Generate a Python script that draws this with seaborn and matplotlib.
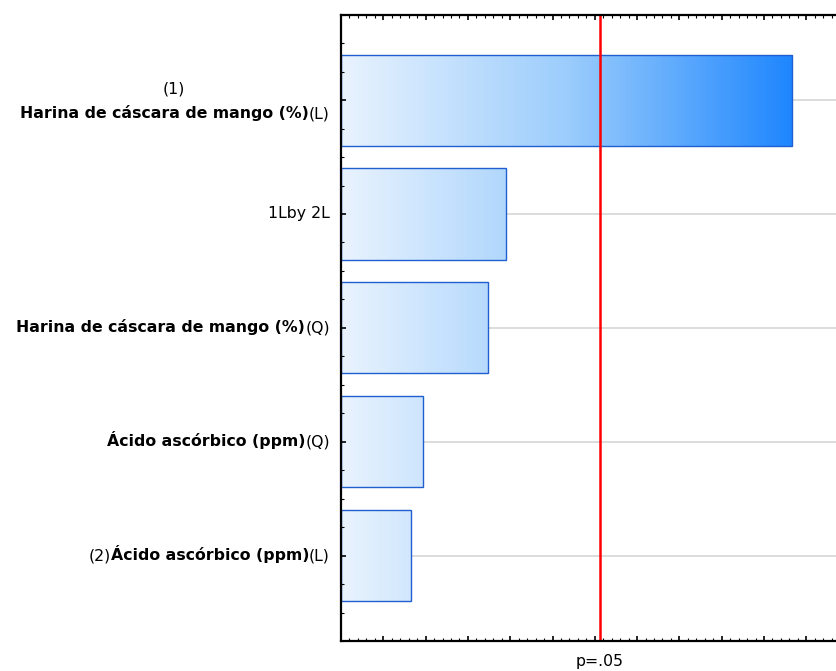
import numpy as np
import pandas as pd
import matplotlib
matplotlib.use('Agg')
import matplotlib.pyplot as plt
from matplotlib.colors import LinearSegmentedColormap
from matplotlib.ticker import MultipleLocator
import seaborn as sns

# efectos estandarizados (valor absoluto)
effects = ['(1)Harina de cáscara de mango (%)(L)', '1Lby 2L',
           'Harina de cáscara de mango (%)(Q)', 'Ácido ascórbico (ppm)(Q)',
           '(2)Ácido ascórbico (ppm)(L)']
values = [4.265, 1.560, 1.390, 0.775, 0.662]
p_crit = 2.447
p_label = 'p=.05'

# partes de cada etiqueta: (texto, negrita), de izquierda a derecha
label_parts = [
    [('Harina de cáscara de mango (%)', True), ('(L)', False)],
    [('1Lby 2L', False)],
    [('Harina de cáscara de mango (%)', True), ('(Q)', False)],
    [('Ácido ascórbico (ppm)', True), ('(Q)', False)],
    [('(2)', False), ('Ácido ascórbico (ppm)', True), ('(L)', False)],
]
label_prefix = ['(1)', '', '', '', '']

df = pd.DataFrame({'efecto': effects, 'valor': values})

sns.set_style('white')
plt.rcParams['font.family'] = ['DejaVu Sans']
plt.rcParams['text.color'] = 'black'
fs = 11.3

fig = plt.figure(figsize=(8.36, 6.71), dpi=100)
ax = fig.add_axes([341 / 836, 1 - 641 / 671, (836 - 341) / 836, (641 - 14.7) / 671])

sns.barplot(data=df, x='valor', y='efecto', orient='h', ax=ax, width=0.8,
            facecolor='none', edgecolor='#1f5fd0', linewidth=1.0, zorder=1.8)

# relleno degradado segun posicion x
cmap = LinearSegmentedColormap.from_list('grad', ['#e9f3fe', '#9ccdfc', '#1e86fe'])
xmax = max(values)
grad = np.linspace(0, 1, 256).reshape(1, -1)
for patch in ax.patches:
    y0, h = patch.get_y(), patch.get_height()
    im = ax.imshow(grad, cmap=cmap, aspect='auto', extent=(0, xmax, y0 + h, y0),
                   zorder=1.5, interpolation='bilinear')
    im.set_clip_path(patch)

ax.set_xlim(0, (836 - 341) / 105.75)
ax.set_ylim(len(values) - 0.25, -0.75)

# rejilla horizontal
for i in range(len(values)):
    ax.axhline(i, color='#d9d9d9', lw=1.3, zorder=1)

ax.axvline(p_crit, color='#ff0000', lw=1.8, zorder=2.2)
ax.set_axisbelow(False)

ax.xaxis.set_major_locator(MultipleLocator(0.4))
ax.xaxis.set_minor_locator(MultipleLocator(0.08))
ax.yaxis.set_major_locator(MultipleLocator(1))
ax.yaxis.set_minor_locator(MultipleLocator(0.25))
ax.tick_params(axis='both', which='major', direction='in', length=3.5, width=1.2,
               color='black', top=True, bottom=True, left=True, right=False,
               labelbottom=False, labelleft=False)
ax.tick_params(axis='both', which='minor', direction='in', length=2, width=0.8,
               color='black', top=True, bottom=True, left=True, right=False)
ax.set_xlabel('')
ax.set_ylabel('')

for side in ['top', 'bottom', 'left']:
    ax.spines[side].set_color('black')
    ax.spines[side].set_linewidth(1.6)
ax.spines['right'].set_visible(False)

ax.annotate(p_label, xy=(p_crit, 0), xycoords=('data', 'axes fraction'),
            xytext=(0, -14.5), textcoords='offset points',
            ha='center', va='center', fontsize=fs, color='black')

# etiquetas con partes en negrita
for i, parts in enumerate(label_parts):
    dy = -9.7 if label_prefix[i] else 0
    prev = None
    bold_txt = None
    for txt, bold in reversed(parts):
        wgt = 'bold' if bold else 'normal'
        if prev is None:
            prev = ax.annotate(txt, xy=(0, i), xycoords=('axes fraction', 'data'),
                               xytext=(-8, dy), textcoords='offset points',
                               ha='right', va='center', fontsize=fs, fontweight=wgt,
                               color='black')
        else:
            prev = ax.annotate(txt, xy=(0, 0), xycoords=prev, ha='right', va='bottom',
                               fontsize=fs, fontweight=wgt, color='black')
        if bold:
            bold_txt = prev
    if label_prefix[i]:
        ax.annotate(label_prefix[i], xy=(0.533, 0.5), xycoords=bold_txt,
                    xytext=(0, 17.3), textcoords='offset points',
                    ha='center', va='center', fontsize=fs, color='black')

fig.savefig('out.png', dpi=100)
